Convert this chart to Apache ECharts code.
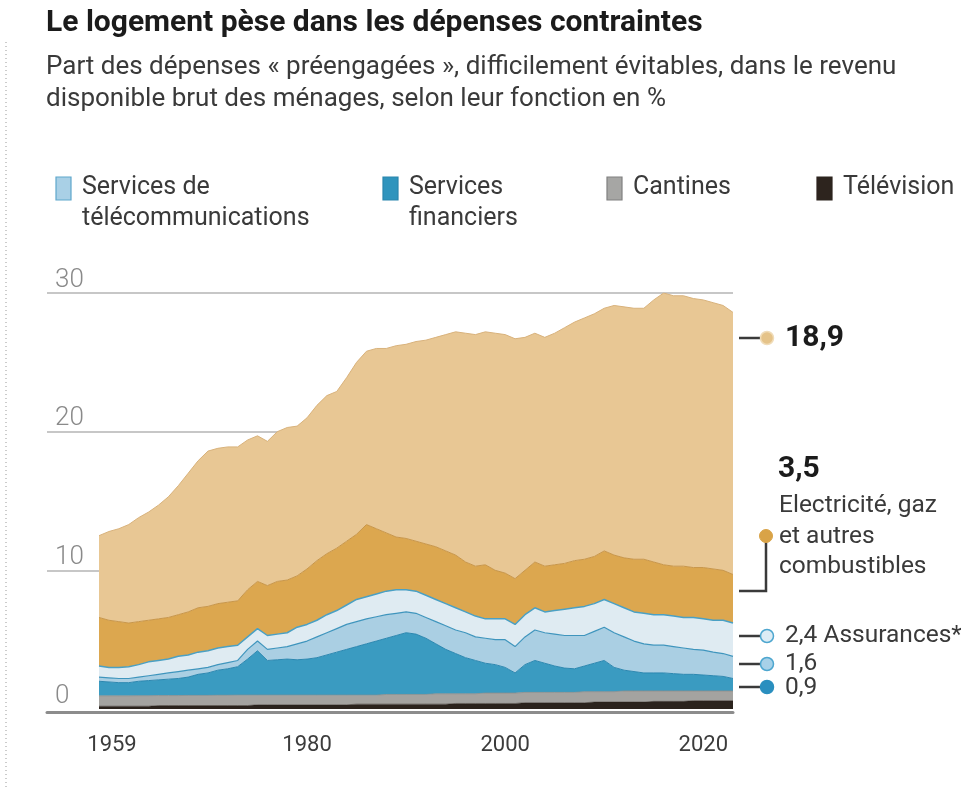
<!DOCTYPE html>
<html>
<head>
<meta charset="utf-8">
<style>
  html, body { margin: 0; padding: 0; background: #fff; }
  #chart { width: 961px; height: 787px; }
</style>
<script src="https://cdn.jsdelivr.net/npm/echarts@6.0.0/dist/echarts.min.js"></script>
</head>
<body>
<div id="chart"></div>
<script>
// Années 1959 à 2023
const years = [
  1959, 1960, 1961, 1962, 1963, 1964, 1965, 1966, 1967, 1968,
  1969, 1970, 1971, 1972, 1973, 1974, 1975, 1976, 1977, 1978,
  1979, 1980, 1981, 1982, 1983, 1984, 1985, 1986, 1987, 1988,
  1989, 1990, 1991, 1992, 1993, 1994, 1995, 1996, 1997, 1998,
  1999, 2000, 2001, 2002, 2003, 2004, 2005, 2006, 2007, 2008,
  2009, 2010, 2011, 2012, 2013, 2014, 2015, 2016, 2017, 2018,
  2019, 2020, 2021, 2022, 2023
];

// Parts du revenu disponible brut, en %
const television = [
  0.2, 0.2, 0.2, 0.2, 0.2, 0.2, 0.25, 0.25, 0.25, 0.25,
  0.25, 0.25, 0.25, 0.25, 0.25, 0.25, 0.3, 0.3, 0.3, 0.3,
  0.3, 0.3, 0.3, 0.3, 0.3, 0.3, 0.35, 0.35, 0.35, 0.35,
  0.35, 0.35, 0.35, 0.35, 0.35, 0.35, 0.4, 0.4, 0.4, 0.4,
  0.4, 0.4, 0.4, 0.45, 0.45, 0.45, 0.45, 0.45, 0.45, 0.45,
  0.5, 0.5, 0.5, 0.5, 0.5, 0.5, 0.55, 0.55, 0.55, 0.55,
  0.6, 0.6, 0.6, 0.6, 0.6
];
const cantines = [
  0.75, 0.75, 0.75, 0.75, 0.76, 0.76, 0.72, 0.72, 0.72, 0.73,
  0.73, 0.73, 0.74, 0.74, 0.75, 0.75, 0.7, 0.7, 0.7, 0.7,
  0.7, 0.7, 0.7, 0.7, 0.7, 0.7, 0.65, 0.65, 0.65, 0.7,
  0.7, 0.7, 0.7, 0.7, 0.75, 0.75, 0.7, 0.7, 0.7, 0.75,
  0.75, 0.75, 0.75, 0.75, 0.75, 0.75, 0.75, 0.75, 0.75, 0.8,
  0.75, 0.75, 0.75, 0.8, 0.8, 0.8, 0.75, 0.75, 0.75, 0.75,
  0.7, 0.7, 0.7, 0.7, 0.7
];
const financiers = [
  1.05, 1.0, 0.95, 0.95, 1.04, 1.09, 1.13, 1.18, 1.23, 1.32,
  1.52, 1.62, 1.81, 1.91, 2.05, 2.6, 3.2, 2.5, 2.55, 2.6,
  2.55, 2.6, 2.7, 2.9, 3.1, 3.3, 3.5, 3.7, 3.9, 4.05,
  4.25, 4.45, 4.35, 4.05, 3.6, 3.2, 2.9, 2.6, 2.4, 2.15,
  2.05, 1.85, 1.45, 2.0, 2.3, 2.1, 1.9, 1.75, 1.7, 1.85,
  2.05, 2.25, 1.75, 1.5, 1.4, 1.3, 1.3, 1.3, 1.25, 1.2,
  1.2, 1.15, 1.1, 1.05, 0.9
];
const telecoms = [
  0.3, 0.3, 0.3, 0.3, 0.3, 0.35, 0.4, 0.45, 0.5, 0.5,
  0.4, 0.4, 0.4, 0.45, 0.45, 0.7, 0.7, 0.8, 0.85, 0.9,
  1.15, 1.3, 1.5, 1.6, 1.7, 1.8, 1.8, 1.8, 1.75, 1.7,
  1.6, 1.5, 1.5, 1.5, 1.6, 1.7, 1.7, 1.8, 1.7, 1.8,
  1.8, 2.0, 1.9, 2.0, 2.2, 2.2, 2.3, 2.35, 2.4, 2.2,
  2.3, 2.4, 2.5, 2.4, 2.2, 2.1, 2.0, 2.0, 1.95, 1.9,
  1.8, 1.8, 1.7, 1.65, 1.6
];
const assurances = [
  0.8, 0.75, 0.8, 0.85, 0.9, 1.0, 1.0, 1.0, 1.1, 1.1,
  1.2, 1.2, 1.2, 1.15, 1.1, 0.9, 0.9, 1.0, 1.0, 1.0,
  1.2, 1.2, 1.2, 1.3, 1.3, 1.4, 1.6, 1.6, 1.65, 1.7,
  1.7, 1.6, 1.6, 1.6, 1.6, 1.6, 1.6, 1.5, 1.5, 1.4,
  1.5, 1.5, 1.6, 1.6, 1.6, 1.5, 1.7, 1.9, 2.0, 2.1,
  2.0, 2.0, 2.1, 2.1, 2.1, 2.2, 2.2, 2.2, 2.2, 2.2,
  2.3, 2.25, 2.3, 2.4, 2.4
];
const energie = [
  3.5, 3.4, 3.3, 3.15, 3.1, 3.0, 3.0, 3.0, 3.0, 3.1,
  3.2, 3.2, 3.2, 3.2, 3.2, 3.4, 3.4, 3.6, 3.8, 3.8,
  3.7, 4.0, 4.3, 4.4, 4.5, 4.6, 4.7, 5.2, 4.7, 4.2,
  3.8, 3.7, 3.6, 3.7, 3.8, 3.8, 3.8, 3.6, 3.6, 3.9,
  3.5, 3.3, 3.3, 3.2, 3.3, 3.3, 3.3, 3.3, 3.4, 3.4,
  3.4, 3.5, 3.5, 3.6, 3.8, 3.9, 3.8, 3.6, 3.6, 3.7,
  3.6, 3.7, 3.7, 3.6, 3.5
];
const logement = [
  5.9, 6.4, 6.7, 7.1, 7.5, 7.8, 8.2, 8.7, 9.3, 10.0,
  10.6, 11.2, 11.2, 11.2, 11.1, 10.8, 10.5, 10.4, 10.8, 11.0,
  10.8, 10.9, 11.2, 11.4, 11.3, 11.8, 12.4, 12.5, 13.0, 13.3,
  13.8, 14.0, 14.4, 14.7, 15.1, 15.6, 16.1, 16.5, 16.7, 16.8,
  17.1, 17.2, 17.3, 16.8, 16.5, 16.5, 16.7, 17.0, 17.2, 17.4,
  17.5, 17.5, 18.0, 18.1, 18.1, 18.1, 18.9, 19.6, 19.5, 19.5,
  19.4, 19.3, 19.2, 19.1, 18.9
];

const yTicks = [0, 10, 20, 30];
const xTicks = [1959, 1980, 2000, 2020];

const FONT = 'Roboto, "Liberation Sans", sans-serif';

function fmt(v) {
  return v.toFixed(1).replace('.', ',');
}

function last(arr) {
  return arr[arr.length - 1];
}

function area(name, values, fill, line, lineWidth) {
  return {
    name: name,
    type: 'line',
    xAxisIndex: 1,
    yAxisIndex: 1,
    stack: 'total',
    symbol: 'none',
    data: values,
    lineStyle: { color: line, width: lineWidth },
    areaStyle: { color: fill, opacity: 1 },
    itemStyle: { color: fill },
    emphasis: { disabled: true }
  };
}

function legendItem(x, fill, stroke, lines) {
  const items = [{
    type: 'rect',
    shape: { x: x, y: 177, width: 15, height: 23 },
    style: { fill: fill, stroke: stroke, lineWidth: 1.2 }
  }];
  lines.forEach(function (t, i) {
    items.push({
      type: 'text', x: x + 26, y: 188 + i * 31,
      style: { text: t, font: '25px ' + FONT, fill: '#3a3a3a', verticalAlign: 'middle' }
    });
  });
  return items;
}

function text(str, x, y, font, color) {
  return {
    type: 'text', x: x, y: y,
    style: { text: str, font: font, fill: color || '#333', verticalAlign: 'middle' }
  };
}

function tag(y, fill, stroke) {
  return [
    { type: 'line', shape: { x1: 739, y1: y, x2: 762, y2: y }, style: { stroke: '#3a3a3a', lineWidth: 2.5 } },
    { type: 'circle', shape: { cx: 767, cy: y, r: 6.5 }, style: { fill: fill, stroke: stroke, lineWidth: 1.5 } }
  ];
}

const chart = echarts.init(document.getElementById('chart'));

const LABEL = '24.5px ' + FONT;
const graphics = [].concat(
  [
    { type: 'line', shape: { x1: 6, y1: 42, x2: 6, y2: 787 }, style: { stroke: '#999', lineWidth: 1, lineDash: [1, 3] } },
    text('Le logement pèse dans les dépenses contraintes', 46, 23, 'bold 30px ' + FONT, '#1b1b1b'),
    text('Part des dépenses « préengagées », difficilement évitables, dans le revenu', 46, 67, '26px ' + FONT, '#3a3a3a'),
    text('disponible brut des ménages, selon leur fonction en %', 46, 99, '26px ' + FONT, '#3a3a3a')
  ],
  legendItem(56, '#a9d0e6', '#5fa7cc', ['Services de', 'télécommunications']),
  legendItem(383, '#2f94bd', '#2a86ad', ['Services', 'financiers']),
  legendItem(607, '#a6a6a4', '#808080', ['Cantines']),
  legendItem(817, '#2d241e', '#2d241e', ['Télévision']),
  [
    text('Logement', 560, 428, '25px ' + FONT, '#4a3722'),
    text(fmt(last(logement)), 785, 338, 'bold 30px ' + FONT, '#1b1b1b'),
    text(fmt(last(energie)), 778, 469, 'bold 30px ' + FONT, '#1b1b1b'),
    text('Electricité, gaz', 779, 506, LABEL, '#3a3a3a'),
    text('et autres', 779, 537, LABEL, '#3a3a3a'),
    text('combustibles', 779, 567, LABEL, '#3a3a3a'),
    text(fmt(last(assurances)) + ' Assurances*', 785, 636, LABEL, '#3a3a3a'),
    text(fmt(last(telecoms)), 785, 664, LABEL, '#3a3a3a'),
    text(fmt(last(financiers)), 785, 688, LABEL, '#3a3a3a'),
    { type: 'polyline', shape: { points: [[739, 591], [766, 591], [766, 540]] }, style: { stroke: '#3a3a3a', lineWidth: 2.5, fill: null } },
    { type: 'circle', shape: { cx: 766, cy: 536, r: 6.5 }, style: { fill: '#d9a347', stroke: '#d9a347' } }
  ],
  tag(338, '#e5c389', '#f0dcb8'),
  tag(636, '#dcecf5', '#4da6cf'),
  tag(664, '#a7d1e8', '#4da6cf'),
  tag(687, '#2a8fbf', '#2a8fbf')
);

const options = {
  animation: false,
  backgroundColor: '#fff',
  textStyle: { fontFamily: FONT },
  grid: [
    // cadre des lignes de graduation, qui débordent à gauche
    { left: 47, right: 228, top: 293, bottom: 78 },
    // zone des aires, de 1959 à 2023
    { left: 99, right: 228, top: 293, bottom: 78 }
  ],
  xAxis: [
    {
      gridIndex: 0,
      type: 'value',
      min: 0,
      max: 1,
      offset: 3,
      axisLine: { show: true, onZero: false, lineStyle: { color: '#8c8c8c', width: 3 } },
      axisTick: { show: false },
      axisLabel: { show: false },
      splitLine: { show: false }
    },
    {
      gridIndex: 1,
      type: 'category',
      data: years,
      boundaryGap: false,
      offset: 3,
      axisLine: { show: false },
      axisTick: { show: false },
      splitLine: { show: false },
      axisLabel: {
        interval: function (index, value) {
          return xTicks.indexOf(Number(value)) !== -1;
        },
        margin: 22,
        fontSize: 22,
        color: '#3c3c3c',
        formatter: function (v) {
          return Number(v) === xTicks[0] ? '{first|' + v + '}' : String(v);
        },
        rich: {
          first: { fontSize: 22, color: '#3c3c3c', padding: [0, 0, 0, 26] }
        }
      }
    }
  ],
  yAxis: [
    {
      gridIndex: 0,
      type: 'value',
      min: yTicks[0],
      max: yTicks[yTicks.length - 1],
      interval: 10,
      axisLine: { show: false },
      axisTick: { show: false },
      splitLine: { show: true, showMinLine: false, lineStyle: { color: '#b5b5b5', width: 1.5 } },
      axisLabel: {
        inside: true,
        margin: 8,
        verticalAlign: 'bottom',
        fontSize: 26,
        fontWeight: 300,
        color: '#8a8a8a'
      }
    },
    {
      gridIndex: 1,
      type: 'value',
      min: yTicks[0],
      max: yTicks[yTicks.length - 1],
      interval: 10,
      show: false,
      splitLine: { show: false }
    }
  ],
  series: [
    area('Télévision', television, '#2b231d', '#2b231d', 0.5),
    area('Cantines', cantines, '#a4a3a0', '#8e8d8a', 0.8),
    area('Services financiers', financiers, '#3a9bc1', '#2b87b0', 1),
    area('Services de télécommunications', telecoms, '#aacfe3', '#3f95bd', 1.2),
    area('Assurances', assurances, '#dfebf2', '#4aa0c4', 1.5),
    area('Electricité, gaz et autres combustibles', energie, '#dca74f', '#c8964a', 1),
    area('Logement', logement, '#e8c794', '#d8b27c', 1)
  ],
  graphic: graphics
};

chart.setOption(options);
</script>
</body>
</html>
